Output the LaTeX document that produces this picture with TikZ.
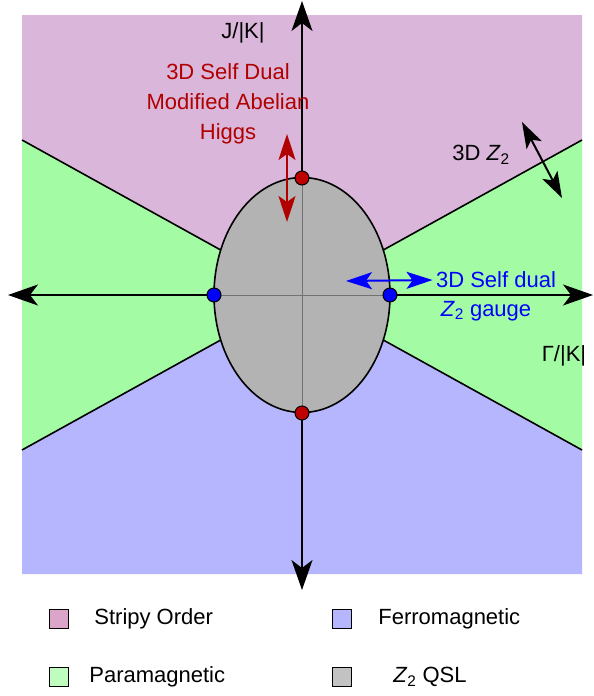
\documentclass[tikz,border=0pt]{standalone}
\usepackage{fontspec}
\setmainfont{Liberation Sans}
\usetikzlibrary{arrows.meta,positioning}
\definecolor{stripycol}{RGB}{218,182,218}
\definecolor{paracol}{RGB}{163,252,163}
\definecolor{ferrocol}{RGB}{182,182,255}
\definecolor{qslcol}{RGB}{179,179,179}
\definecolor{darkred}{RGB}{176,0,0}
\definecolor{dotred}{RGB}{190,0,0}
\tikzset{
  bigtip/.tip={Stealth[length=30pt,width=21pt,inset=8pt]},
  smalltip/.tip={Stealth[length=26pt,width=17pt,inset=6pt]},
  axisline/.style={line width=1.2pt,bigtip-bigtip},
  border/.style={line width=1.6pt},
  twoway/.style={line width=2pt,smalltip-smalltip},
  pdot/.style={circle,draw=black,line width=1pt,minimum size=14pt,inner sep=0pt},
  legbox/.style={draw=black,line width=1.4pt,minimum size=19pt,inner sep=0pt},
  legtext/.style={inner sep=0pt,anchor=west},
}
\begin{document}
\begin{tikzpicture}[x=1pt,y=-1pt,font=\fontsize{22}{30}\selectfont]
\useasboundingbox (0,0) rectangle (594,696);
        %regions
        \coordinate (O) at (302,295);
        \coordinate (ul) at (22,140);
        \coordinate (ll) at (22,450);
        \coordinate (ur) at (582,140);
        \coordinate (lr) at (582,450);
        \fill[stripycol] (22,15) -- (582,15) -- (ur) -- (O) -- (ul) -- cycle;
        \fill[paracol] (ul) -- (O) -- (ll) -- cycle;
        \fill[paracol] (ur) -- (O) -- (lr) -- cycle;
        \fill[ferrocol] (ll) -- (O) -- (lr) -- (582,574) -- (22,574) -- cycle;
        \draw[border] (ul) -- (O) -- (ur);
        \draw[border] (ll) -- (O) -- (lr);
        %axes
        \coordinate (xl) at (8,295);
        \coordinate (xr) at (593,295);
        \coordinate (yt) at (302,1);
        \coordinate (yb) at (302,590);
        \draw[axisline] (xl) -- (xr);
        \draw[axisline] (yb) -- (yt);
        %QSL
        \fill[qslcol] (O) ellipse [x radius=88, y radius=117.5];
        \begin{scope}
          \clip (O) ellipse [x radius=88, y radius=117.5];
          \draw[gray!90!black,line width=1pt] (xl) -- (xr);
          \draw[gray!90!black,line width=1pt] (yt) -- (yb);
        \end{scope}
        \draw[border] (O) ellipse [x radius=88, y radius=117.5];
        %points
        \node[pdot,fill=dotred] (ptop) at (302,178) {};
        \node[pdot,fill=dotred] (pbot) at (302,413) {};
        \node[pdot,fill=blue] (pleft) at (214,295) {};
        \node[pdot,fill=blue] (pright) at (390,295) {};
        %label
        \node (jlab) at (243,33) {J/|K|};
        \node (glab) at (564,356) {Γ/|K|};
        \node[text=darkred,align=center] (higgs) at (228,104) {3D Self Dual\\Modified Abelian\\Higgs};
        \node (zz) at (481,155) {3D \textit{Z}\textsubscript{2}};
        \node[text=blue] (sdual) at (496,280) {3D Self dual};
        \node[text=blue] (gauge) at (486,311) {\textit{Z}\textsubscript{2} gauge};
        %arrows
        \coordinate (rtop) at (287,134);
        \coordinate (rbot) at (287,222);
        \draw[twoway,darkred] (rtop) -- (rbot);
        \coordinate (bleft) at (346,281);
        \draw[twoway,blue] (bleft) -- (sdual.west);
        \coordinate (ktop) at (522,122);
        \coordinate (kbot) at (562,198);
        \draw[twoway,black] (ktop) -- (kbot);
        %legend
        \node[legbox,fill=stripycol!85!purple!90] (sqstripy) at (59,619) {};
        \node[legbox,fill=paracol!70!white] (sqpara) at (59,677) {};
        \node[legbox,fill=ferrocol] (sqferro) at (342,619) {};
        \node[legbox,fill=qslcol!80!white] (sqqsl) at (342,677) {};
        \node[legtext,right=25pt of sqstripy] (tstripy) {Stripy Order};
        \node[legtext,right=20pt of sqpara] (tpara) {Paramagnetic};
        \node[legtext,right=26pt of sqferro] (tferro) {Ferromagnetic};
        \node[legtext,right=41pt of sqqsl] (tqsl) {\textit{Z}\textsubscript{2} QSL};
\end{tikzpicture}
\end{document}
